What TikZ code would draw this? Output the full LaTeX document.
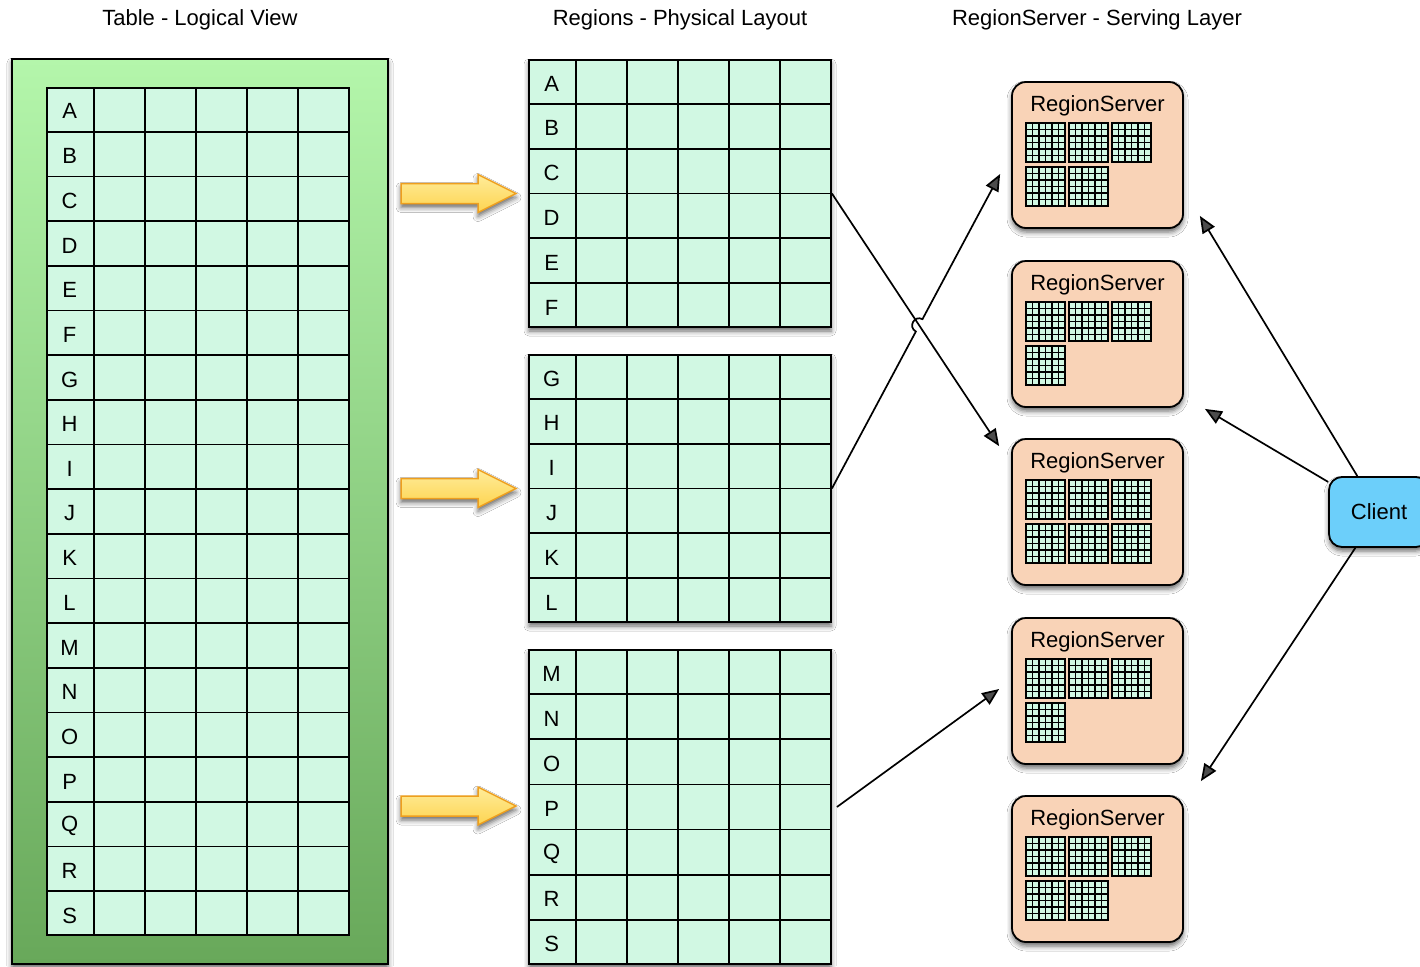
\documentclass[tikz,border=0pt]{standalone}
\usepackage{fontspec}
\setmainfont{Liberation Sans}
\usetikzlibrary{calc,arrows.meta,shadows.blur,intersections}
\definecolor{cellc}{HTML}{D1F8E3}
\definecolor{gtop}{HTML}{B4F6AB}
\definecolor{gbot}{HTML}{68A85A}
\definecolor{rsfill}{HTML}{F9D3B7}
\definecolor{clfill}{HTML}{6CCFFA}
\definecolor{ytop}{HTML}{FFEC9A}
\definecolor{ybot}{HTML}{FDD450}
\definecolor{yline}{HTML}{EE9F1E}
\tikzset{
  sh/.style={blur shadow={shadow xshift=0pt,shadow yshift=-4pt,shadow blur radius=5pt,shadow opacity=60}},
  lbl/.style={font=\fontsize{22}{26}\selectfont, inner sep=0pt},
  tablebox/.style={draw=black, line width=1.8pt, fill=cellc, inner sep=0pt, minimum width=302pt},
  gline/.style={line width=1.8pt},
  outerbox/.style={draw=black, line width=1.8pt, top color=gtop, bottom color=gbot, inner sep=0pt, minimum width=376pt, minimum height=905pt, sh},
  rsbox/.style={draw=black, line width=1.8pt, fill=rsfill, rounded corners=14pt, minimum width=171pt, minimum height=146pt, inner sep=0pt, sh},
  clbox/.style={draw=black, line width=1.8pt, fill=clfill, rounded corners=13pt, minimum width=100pt, minimum height=70pt, inner sep=0pt, sh, lbl},
  conn/.style={line width=1.7pt, -{Triangle[length=17pt,width=14pt]}},
  bigarrow/.style={draw=yline, line width=1.5pt, top color=ytop, bottom color=ybot, sh},
  mline/.style={line width=1.6pt},
  minig/.pic={
    \fill[cellc] (0,0) rectangle (39,39);
    \foreach \k in {1,...,5} {
      \draw[mline] (\k*6.5,0) -- (\k*6.5,39);
      \draw[mline] (0,\k*6.5) -- (39,\k*6.5);
    }
    \draw[mline] (0,0) rectangle (39,39);
  }
}
\newcommand{\gridlines}[4]{% name, rows, rows-1, letters
  \foreach \dx in {48,99,150,201,252}
    \draw[gline] ($(#1.north west)+(\dx,0)$) -- ($(#1.south west)+(\dx,0)$);
  \foreach \i [evaluate=\i as \f using \i/#2] in {1,...,#3}
    \draw[gline] ($(#1.north west)!\f!(#1.south west)$) -- ($(#1.north east)!\f!(#1.south east)$);
  \foreach \ltr [count=\i, evaluate=\i as \f using (\i-0.5)/#2] in {#4}
    \node[lbl] (#1-\ltr) at ($(#1.north west)!\f!(#1.south west)+(23.5,2)$) {\ltr};
}
\begin{document}
\begin{tikzpicture}[x=1pt,y=-1pt]
\useasboundingbox (0,0) rectangle (1420,966);
\fill[white] (0,0) rectangle (1420,966);

% titles
\node[lbl] (t1) at (200,20) {Table - Logical View};
\node[lbl] (t2) at (680,20) {Regions - Physical Layout};
\node[lbl] (t3) at (1097,20) {RegionServer - Serving Layer};

% logical table
\node[outerbox] (outer) at (200,511.5) {};
\node[tablebox, minimum height=847pt] (tbl) at (198,511.5) {};
\gridlines{tbl}{19}{18}{A,B,C,D,E,F,G,H,I,J,K,L,M,N,O,P,Q,R,S}

% region tables
\node[tablebox, minimum height=267pt, sh] (r1) at (680,193.5) {};
\gridlines{r1}{6}{5}{A,B,C,D,E,F}
\node[tablebox, minimum height=267pt, sh] (r2) at (680,488.5) {};
\gridlines{r2}{6}{5}{G,H,I,J,K,L}
\node[tablebox, minimum height=314pt, sh] (r3) at (680,807) {};
\gridlines{r3}{7}{6}{M,N,O,P,Q,R,S}

% yellow arrows
\foreach \cy in {193.5,488.5,806}
  \path[bigarrow] (401,\cy-10) -- (478,\cy-10) -- (478,\cy-19) -- (516,\cy) -- (478,\cy+19) -- (478,\cy+10) -- (401,\cy+10) -- cycle;

% region servers
\foreach \n/\cy in {1/155, 2/334, 3/512, 4/691, 5/869} {
  \node[rsbox] (rs\n) at (1097.5,\cy) {};
  \node[lbl] (rs\n-t) at ($(rs\n.north)+(0,25)$) {RegionServer};
  \foreach \gx in {15,58,101}
    \pic at ($(rs\n.north west)+(\gx,42)$) {minig};
}
\pic at ($(rs1.north west)+(15,86)$) {minig};
\pic at ($(rs1.north west)+(58,86)$) {minig};
\pic at ($(rs2.north west)+(15,86)$) {minig};
\pic at ($(rs3.north west)+(15,86)$) {minig};
\pic at ($(rs3.north west)+(58,86)$) {minig};
\pic at ($(rs3.north west)+(101,86)$) {minig};
\pic at ($(rs4.north west)+(15,86)$) {minig};
\pic at ($(rs5.north west)+(15,86)$) {minig};
\pic at ($(rs5.north west)+(58,86)$) {minig};

% client
\node[clbox] (client) at (1379,512) {Client};

% connectors
\coordinate (e1) at ($(rs3.north west)+(-12,8)$);
\coordinate (e2) at ($(rs1.west)+(-11,19)$);
\draw[conn, name path=L1] (r1.east) -- (e1);
\path[name path=L2] (r2.east) -- (e2);
\path[name intersections={of=L1 and L2, by=X}];
\coordinate (hA) at ($(X)!7pt!(r2.east)$);
\coordinate (hB) at ($(X)!7pt!(e2)$);
\draw[conn] (r2.east) -- (hA) .. controls ($(hA)!9.3pt!90:(X)$) and ($(hB)!9.3pt!-90:(X)$) .. (hB) -- (e2);
\draw[conn] ([xshift=5pt]r3.east) -- ($(rs4.west)+(-12,-2)$);

\draw[conn] (client) -- ($(rs1.south east)+(16,-13)$);
\draw[conn] (client) -- ($(rs2.south east)+(21,1)$);
\draw[conn] (client) -- ($(rs5.north east)+(17,-14)$);
\end{tikzpicture}
\end{document}
